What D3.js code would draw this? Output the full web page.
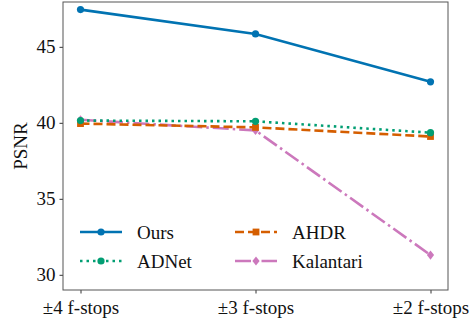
<!DOCTYPE html>
<html>
<head>
<meta charset="utf-8">
<script src="https://cdn.jsdelivr.net/npm/d3@7"></script>
<style>
  body { margin: 0; background: #fff; }
</style>
</head>
<body>
<div id="chart"></div>
<script>
// data
var categories = ["\u00b14 f-stops", "\u00b13 f-stops", "\u00b12 f-stops"];
var ours = [47.45, 45.85, 42.7];
var adnet = [40.15, 40.1, 39.35];
var ahdr = [39.95, 39.7, 39.1];
var kalantari = [40.2, 39.5, 31.3];
var yTicks = [30, 35, 40, 45];

var series = [
  { name: "Ours", values: ours, color: "#0173B2", dash: null, marker: "circle" },
  { name: "ADNet", values: adnet, color: "#029E73", dash: "2.5,4", marker: "circle" },
  { name: "AHDR", values: ahdr, color: "#D55E00", dash: "9,4", marker: "square" },
  { name: "Kalantari", values: kalantari, color: "#CC78BC", dash: "16,4,2.5,4", marker: "diamond" }
];

var width = 475, height = 320;
var margin = { top: 2, right: 27, bottom: 30, left: 63 };
var serif = "'Liberation Serif', 'Times New Roman', Times, serif";
var fontSize = "19px";

var svg = d3.select("#chart").append("svg")
  .attr("width", width)
  .attr("height", height);

var x = d3.scalePoint()
  .domain(categories)
  .range([margin.left, width - margin.right])
  .padding(0.1); // matplotlib-ish 5% margin

var y = d3.scaleLinear()
  .domain([29.0, 47.95])
  .range([height - margin.bottom, margin.top]);

// axes
var xAxis = svg.append("g")
  .attr("transform", "translate(0," + (height - margin.bottom) + ")")
  .call(d3.axisBottom(x).tickSize(3.5).tickPadding(4));
var yAxis = svg.append("g")
  .attr("transform", "translate(" + margin.left + ",0)")
  .call(d3.axisLeft(y).tickValues(yTicks).tickSize(3.5).tickPadding(4));

[xAxis, yAxis].forEach(function(a) {
  a.attr("font-family", serif).attr("font-size", 19);
  a.select(".domain").remove();
  a.selectAll("line").attr("stroke", "#333");
  a.selectAll("text")
    .attr("fill", "#111")
    .style("font-family", serif)
    .style("font-size", fontSize);
});
xAxis.selectAll("text").attr("dy", "0.85em");

// frame
svg.append("rect")
  .attr("x", margin.left)
  .attr("y", margin.top)
  .attr("width", width - margin.left - margin.right)
  .attr("height", height - margin.top - margin.bottom)
  .attr("fill", "none")
  .attr("stroke", "#555")
  .attr("stroke-width", 1);

// y label
svg.append("text")
  .attr("transform", "translate(27," + ((height - margin.bottom + margin.top) / 2) + ") rotate(-90)")
  .attr("text-anchor", "middle")
  .style("font-family", serif)
  .style("font-size", fontSize)
  .attr("fill", "#111")
  .text("PSNR");

function drawMarker(g, type, cx, cy, color) {
  if (type === "circle") {
    g.append("circle").attr("cx", cx).attr("cy", cy).attr("r", 3.6).attr("fill", color);
  } else if (type === "square") {
    g.append("rect").attr("x", cx - 3.4).attr("y", cy - 3.4).attr("width", 6.8).attr("height", 6.8).attr("fill", color);
  } else {
    g.append("path")
      .attr("d", "M" + cx + "," + (cy - 4.6) + "L" + (cx + 3.6) + "," + cy + "L" + cx + "," + (cy + 4.6) + "L" + (cx - 3.6) + "," + cy + "Z")
      .attr("fill", color);
  }
}

var line = d3.line()
  .x(function(d, i) { return x(categories[i]); })
  .y(function(d) { return y(d); });

// draw in reverse so Ours is on top
series.slice().reverse().forEach(function(s) {
  var g = svg.append("g");
  g.append("path")
    .attr("d", line(s.values))
    .attr("fill", "none")
    .attr("stroke", s.color)
    .attr("stroke-width", 2.6)
    .attr("stroke-dasharray", s.dash);
  s.values.forEach(function(v, i) {
    drawMarker(g, s.marker, x(categories[i]), y(v), s.color);
  });
});

// legend
var legendPos = [[80, 232], [80, 261], [235, 232], [235, 261]];
series.forEach(function(s, i) {
  var lx = legendPos[i][0], ly = legendPos[i][1];
  var g = svg.append("g");
  g.append("line")
    .attr("x1", lx).attr("x2", lx + 42)
    .attr("y1", ly).attr("y2", ly)
    .attr("stroke", s.color)
    .attr("stroke-width", 2.6)
    .attr("stroke-dasharray", s.dash);
  drawMarker(g, s.marker, lx + 21, ly, s.color);
  g.append("text")
    .attr("x", lx + 57)
    .attr("y", ly)
    .attr("dy", "0.35em")
    .style("font-family", serif)
    .style("font-size", fontSize)
    .attr("fill", "#111")
    .text(s.name);
});
</script>
</body>
</html>
